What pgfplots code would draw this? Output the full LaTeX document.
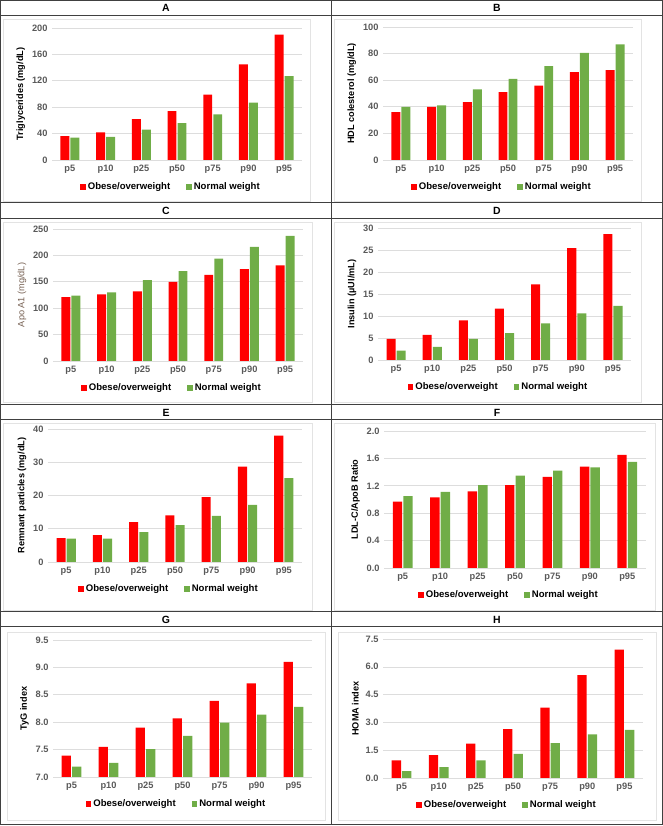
\documentclass[border=0pt]{standalone}
\usepackage{fontspec}
\setmainfont{Liberation Sans}
\usepackage{pgfplots}
\usepackage{pgfplotstable}
\pgfplotsset{compat=1.18}

\definecolor{obese}{HTML}{FF0000}
\definecolor{normal}{HTML}{70AD47}
\definecolor{ticktext}{HTML}{595959}
\definecolor{gridc}{HTML}{DDDDDD}
\definecolor{rulec}{HTML}{404040}
\definecolor{framec}{HTML}{E3E3E3}
\definecolor{apobrown}{HTML}{766052}

% percentile, obese/overweight, normal weight
\pgfplotstableread{
cat obese normal
p5  36   34
p10 42   35
p25 62   46
p50 74   56
p75 99   69
p90 145  87
p95 190  127
}\dataA
\pgfplotstableread{
cat obese normal
p5  36   40
p10 40   41
p25 43.5 53
p50 51   61
p75 56   70.5
p90 66   80.5
p95 67.5 87
}\dataB
\pgfplotstableread{
cat obese normal
p5  121  124
p10 126  130
p25 132  153
p50 150  170
p75 163  194
p90 174  216
p95 181  237
}\dataC
\pgfplotstableread{
cat obese normal
p5  4.8  2.1
p10 5.7  3.0
p25 9.0  4.8
p50 11.7 6.1
p75 17.2 8.3
p90 25.4 10.6
p95 28.6 12.3
}\dataD
\pgfplotstableread{
cat obese normal
p5  7.2  7.0
p10 8.1  7.0
p25 12.0 9.0
p50 14.0 11.1
p75 19.5 13.9
p90 28.7 17.2
p95 38.0 25.2
}\dataE
\pgfplotstableread{
cat obese normal
p5  0.97 1.05
p10 1.03 1.11
p25 1.12 1.21
p50 1.21 1.35
p75 1.33 1.42
p90 1.48 1.47
p95 1.65 1.55
}\dataF
\pgfplotstableread{
cat obese normal
p5  7.39 7.19
p10 7.55 7.26
p25 7.90 7.51
p50 8.07 7.75
p75 8.39 7.99
p90 8.71 8.14
p95 9.10 8.28
}\dataG
\pgfplotstableread{
cat obese normal
p5  0.95 0.37
p10 1.23 0.59
p25 1.85 0.95
p50 2.64 1.30
p75 3.80 1.88
p90 5.55 2.35
p95 6.93 2.60
}\dataH

\pgfplotsset{
  panel/.style={
    scale only axis,
    anchor=south west,
    ybar,
    bar width=0.25,
    xmin=-0.5, xmax=6.5,
    xtick={0,...,6},
    xticklabels={p5,p10,p25,p50,p75,p90,p95},
    major tick length=0pt,
    axis line style={draw=none},
    ymajorgrids,
    grid style={gridc, line width=0.6pt},
    /pgf/number format/assume math mode=true,
    ticklabel style={font=\fontsize{9.3}{11}\selectfont\bfseries, text=ticktext},
    xticklabel style={yshift=-2bp},
    yticklabel style={xshift=-1bp},
    ylabel style={font=\fontsize{9.2}{11}\selectfont\bfseries, text=black},
    legend columns=2,
    legend style={draw=none, fill=none,
      font=\fontsize{9.6}{11}\selectfont\bfseries,
      at={(0.5,0)}, anchor=center, yshift=-27bp, xshift=-6bp,
      /tikz/every even column/.append style={column sep=14bp}},
    legend image code/.code={\fill (0bp,-2.8bp) rectangle (5.6bp,2.8bp);},
  },
  onedec/.style={yticklabel style={/pgf/number format/.cd, fixed, fixed zerofill, precision=1}},
  obesebar/.style={fill=obese, draw=none, bar shift=-0.14},
  normalbar/.style={fill=normal, draw=none, bar shift=0.14},
}

\newcommand{\twobars}[1]{%
  \addplot[obesebar] table[x expr=\coordindex, y=obese] {#1};
  \addlegendentry{Obese/overweight}
  \addplot[normalbar] table[x expr=\coordindex, y=normal] {#1};
  \addlegendentry{Normal weight}
}

\begin{document}
\begin{tikzpicture}[x=1bp, y=1bp]
\path[use as bounding box] (0,0) rectangle (663,826);

% light chart-area frames
\begin{scope}[draw=framec, line width=0.7bp]
  \draw (3,625) rectangle (310,807);
  \draw (334,625) rectangle (641,807);
  \draw (3,424) rectangle (312,604);
  \draw (334,424) rectangle (641,604);
  \draw (3,216) rectangle (312,403);
  \draw (334,216) rectangle (655,403);
  \draw (7,6) rectangle (325,194);
  \draw (338,6) rectangle (656,194);
\end{scope}

% A: triglycerides
\begin{axis}[panel, at={(52bp,666bp)}, width=250bp, height=132bp,
  ymin=0, ymax=200, ytick={0,40,...,200}, ylabel={Triglycerides (mg/dL)}]
\twobars{\dataA}
\end{axis}

% B: HDL cholesterol
\begin{axis}[panel, at={(383bp,666bp)}, width=250bp, height=133bp,
  ymin=0, ymax=100, ytick={0,20,...,100}, ylabel={HDL colesterol (mg/dL)}]
\twobars{\dataB}
\end{axis}

% C: Apo A1
\begin{axis}[panel, at={(53bp,465bp)}, width=250bp, height=132bp,
  ymin=0, ymax=250, ytick={0,50,...,250}, ylabel={Apo A1 (mg/dL)},
  ylabel style={font=\fontsize{9.2}{11}\selectfont\mdseries, text=apobrown}]
\twobars{\dataC}
\end{axis}

% D: insulin
\begin{axis}[panel, at={(378bp,466bp)}, width=253bp, height=132bp,
  ymin=0, ymax=30, ytick={0,5,...,30}, ylabel={Insulin (µUI/mL)}]
\twobars{\dataD}
\end{axis}

% E: remnant particles
\begin{axis}[panel, at={(48bp,264bp)}, width=254bp, height=133bp,
  ymin=0, ymax=40, ytick={0,10,...,40}, ylabel={Remnant particles (mg/dL)}]
\twobars{\dataE}
\end{axis}

% F: LDL-C/ApoB ratio
\begin{axis}[panel, onedec, at={(384bp,258bp)}, width=262bp, height=137bp,
  ymin=0, ymax=2, ytick={0,0.4,0.8,1.2,1.6,2.0}, ylabel={LDL-C/ApoB Ratio}]
\twobars{\dataF}
\end{axis}

% G: TyG index
\begin{axis}[panel, onedec, at={(53bp,49bp)}, width=259bp, height=137bp,
  ymin=7, ymax=9.5, ytick={7,7.5,8,8.5,9,9.5}, ylabel={TyG index}]
\twobars{\dataG}
\end{axis}

% H: HOMA index
\begin{axis}[panel, onedec, at={(383bp,48bp)}, width=260bp, height=139bp,
  ymin=0, ymax=7.5, ytick={0,1.5,3,4.5,6,7.5}, ylabel={HOMA index}]
\twobars{\dataH}
\end{axis}

% table rules
\begin{scope}[draw=rulec, line width=1bp]
  \draw (0.5,1.5) rectangle (662.5,825.5);
  \draw (331,1.5) -- (331,825.5);
  \foreach \yy in {810,623,607,421,406,214,199} {
    \draw (0.5,\yy) -- (662.5,\yy);
  }
\end{scope}

% panel letters
\begin{scope}[font=\fontsize{10.5}{12}\selectfont\bfseries]
  \node at (166,818) {A};
  \node at (497,818) {B};
  \node at (166,615) {C};
  \node at (497,615) {D};
  \node at (166,413.5) {E};
  \node at (497,413.5) {F};
  \node at (166,206.5) {G};
  \node at (497,206.5) {H};
\end{scope}
\end{tikzpicture}
\end{document}
